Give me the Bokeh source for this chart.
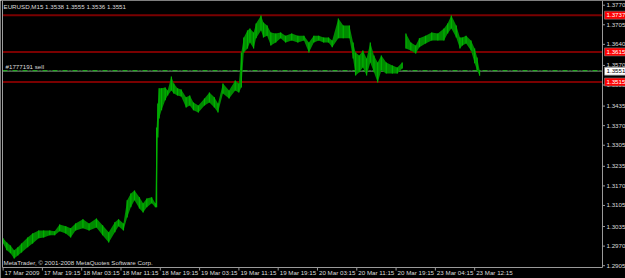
from bokeh.plotting import figure
from bokeh.models import ColumnDataSource
from bokeh.core.properties import value
from bokeh.embed import file_html
from bokeh.resources import INLINE

# ---------------- data ----------------
chart_title = "EURUSD,M15  1.3538 1.3555 1.3536 1.3551"
order_text = "#1777191 sell"
copyright_text = "MetaTrader, \u00a9 2001-2008 MetaQuotes Software Corp."

bar_index = [0, 3, 6, 9, 12, 15, 20, 24, 29, 33, 38, 42, 46, 51, 55, 59, 65, 70, 76, 81, 86, 91, 94, 98,
             101, 104, 107, 111, 114, 117, 121, 124, 125, 126, 127, 129, 132, 134, 137, 139, 142, 145,
             149, 152, 155, 159, 164, 168, 172, 175, 179, 184, 189, 192, 194, 196, 199, 201, 204, 206,
             210, 212, 215, 218, 222, 226, 230, 235, 240, 245, 249, 253, 257, 261, 265, 268, 273, 277,
             282, 285, 287, 290, 293, 296, 299, 302, 305, 308, 312, 317, 321, 325,
             328, 332, 336, 339, 344, 349, 354, 359, 362, 365, 369, 372, 374, 377, 381, 384, 386, 388]
bar_high = [1.2996, 1.2982, 1.2972, 1.2956, 1.2966, 1.2979, 1.2999, 1.3012, 1.3022, 1.3022, 1.3022, 1.3019,
            1.3042, 1.3036, 1.3029, 1.3045, 1.3059, 1.3045, 1.3062, 1.3039, 1.3016, 1.3049, 1.3059, 1.3045,
            1.3122, 1.3145, 1.3155, 1.3132, 1.3112, 1.3128, 1.3132, 1.3112, 1.3364, 1.3444, 1.3494, 1.3494,
            1.3497, 1.3487, 1.3533, 1.3510, 1.3494, 1.3490, 1.3464, 1.3470, 1.3447, 1.3437, 1.3460, 1.3480,
            1.3464, 1.3444, 1.3510, 1.3487, 1.3520, 1.3510, 1.3613, 1.3663, 1.3686, 1.3693, 1.3679, 1.3709,
            1.3736, 1.3713, 1.3703, 1.3679, 1.3676, 1.3679, 1.3669, 1.3676, 1.3669, 1.3669, 1.3646, 1.3669,
            1.3669, 1.3663, 1.3663, 1.3653, 1.3726, 1.3703, 1.3703, 1.3646, 1.3613, 1.3603, 1.3620, 1.3593,
            1.3646, 1.3603, 1.3580, 1.3603, 1.3580, 1.3570, 1.3563, 1.3580,
            1.3676, 1.3646, 1.3636, 1.3660, 1.3669, 1.3679, 1.3676, 1.3693, 1.3709, 1.3736, 1.3703, 1.3663,
            1.3663, 1.3669, 1.3653, 1.3626, 1.3596, 1.3555]
bar_low = [1.2979, 1.2956, 1.2946, 1.2929, 1.2939, 1.2949, 1.2966, 1.2979, 1.2996, 1.2999, 1.3006, 1.3006,
           1.3019, 1.3012, 1.2999, 1.3022, 1.3029, 1.3022, 1.3032, 1.3006, 1.2982, 1.3016, 1.3036, 1.3022,
           1.3065, 1.3099, 1.3122, 1.3095, 1.3082, 1.3099, 1.3112, 1.3099, 1.3099, 1.3331, 1.3394, 1.3421,
           1.3454, 1.3470, 1.3487, 1.3477, 1.3470, 1.3467, 1.3430, 1.3437, 1.3421, 1.3414, 1.3437, 1.3447,
           1.3430, 1.3414, 1.3477, 1.3460, 1.3487, 1.3480, 1.3497, 1.3613, 1.3626, 1.3646, 1.3626, 1.3660,
           1.3686, 1.3663, 1.3669, 1.3636, 1.3646, 1.3660, 1.3646, 1.3653, 1.3646, 1.3653, 1.3613, 1.3646,
           1.3653, 1.3646, 1.3646, 1.3630, 1.3660, 1.3660, 1.3660, 1.3593, 1.3537, 1.3547, 1.3563, 1.3537,
           1.3580, 1.3547, 1.3513, 1.3553, 1.3543, 1.3543, 1.3543, 1.3560,
           1.3626, 1.3620, 1.3610, 1.3630, 1.3643, 1.3653, 1.3653, 1.3653, 1.3676, 1.3693, 1.3663, 1.3626,
           1.3636, 1.3643, 1.3620, 1.3577, 1.3553, 1.3536]
last_bar_before_weekend = 325

level_prices = [1.3737, 1.3615, 1.3515]
level_labels = ["1.3737", "1.3615", "1.3515"]
order_price = 1.3551
order_label = "1.3551"

y_ticks = [1.2905, 1.2970, 1.3035, 1.3105, 1.3170, 1.3235, 1.3305, 1.3370, 1.3435, 1.3505,
           1.3570, 1.3640, 1.3705, 1.3770]
y_tick_labels = ["1.2905", "1.2970", "1.3035", "1.3105", "1.3170", "1.3235", "1.3305", "1.3370",
                 "1.3435", "1.3505", "1.3570", "1.3640", "1.3705", "1.3770"]
x_tick_bars = [0, 32, 64, 96, 128, 160, 192, 224, 256, 288, 320, 352, 384]
x_tick_labels = ["17 Mar 2009", "17 Mar 19:15", "18 Mar 03:15", "18 Mar 11:15", "18 Mar 19:15",
                 "19 Mar 03:15", "19 Mar 11:15", "19 Mar 19:15", "20 Mar 03:15", "20 Mar 11:15",
                 "20 Mar 19:15", "23 Mar 04:15", "23 Mar 12:15"]

# ---------------- layout / style ----------------
W, H = 625, 278
PL, PR, PT, PB = 2, 602, 2, 267          # chart pane edges in canvas pixels
X0, X1 = -0.5, 488.1                     # bar range of the chart pane
Y0, Y1 = 1.2899, 1.3779                  # price range of the chart pane
BX = (X1 - X0) / (PR - PL)               # bars per pixel
BY = (Y1 - Y0) / (PB - PT)               # price per pixel

FONT = value("Liberation Sans")
FS = value("6.2px")
BG = "#000000"
AXIS = "#9a9a9a"
TXT = "#dcdcdc"

p = figure(width=W, height=H,
           x_range=(X0 - PL * BX, X1 + (W - PR) * BX),
           y_range=(Y0 - (H - PB) * BY, Y1 + PT * BY),
           output_backend="svg", toolbar_location=None,
           min_border=0, min_border_left=0, min_border_right=0, min_border_top=0, min_border_bottom=0)
p.axis.visible = False
p.background_fill_color = BG
p.border_fill_color = BG
p.outline_line_color = None
p.grid.visible = False

# levels (dark red), bid line (grey) and order line (green dash-dot)
n_lv = len(level_prices)
p.segment(x0=[X0] * n_lv, x1=[X1] * n_lv, y0=level_prices, y1=level_prices,
          line_color="#7a0000", line_width=2)
p.segment(x0=[X0], x1=[X1], y0=[order_price], y1=[order_price], line_color="#808080", line_width=1)
p.segment(x0=[X0], x1=[X1], y0=[order_price + 0.5 * BY], y1=[order_price + 0.5 * BY],
          line_color="#22a822", line_width=1.3, line_dash="5 2 1 2")

# price bars (high/low band plus bar strokes)
split = bar_index.index(last_bar_before_weekend) + 1
for a, b in ((0, split), (split, len(bar_index))):
    src = ColumnDataSource(dict(x=bar_index[a:b], hi=bar_high[a:b], lo=bar_low[a:b]))
    p.varea(x="x", y1="lo", y2="hi", source=src, fill_color="#008a00")
    p.segment(x0="x", y0="lo", x1="x", y1="hi", source=src, line_color="#00b400", line_width=1.2)

# frame: left border, bottom axis line, right axis line
p.segment(x0=[X0, X0, X1], x1=[X0, X1, X1], y0=[Y0, Y0, Y0], y1=[Y1 + PT * BY, Y0, Y1 + PT * BY],
          line_color=AXIS, line_width=1)

# right price axis: ticks and labels
nt = len(y_ticks)
p.segment(x0=[X1] * nt, x1=[X1 + 2.5 * BX] * nt, y0=y_ticks, y1=y_ticks, line_color=AXIS, line_width=1)
p.text(x=[X1 + 4 * BX] * nt, y=y_ticks, text=y_tick_labels, text_font=FONT, text_font_size=FS,
       text_color=TXT, text_align="left", text_baseline="middle")

# bottom time axis: ticks and left-aligned labels
nx = len(x_tick_bars)
p.segment(x0=x_tick_bars, x1=x_tick_bars, y0=[Y0] * nx, y1=[Y0 - 3 * BY] * nx,
          line_color=AXIS, line_width=1)
p.text(x=[t + 1.5 * BX for t in x_tick_bars], y=[Y0 - 5 * BY] * nx, text=x_tick_labels,
       text_font=FONT, text_font_size=FS, text_color=TXT, text_align="left", text_baseline="middle")

# price markers on the axis
mk_prices = level_prices + [order_price]
mk_labels = level_labels + [order_label]
mk_fill = ["#ff0000"] * n_lv + ["#ffffff"]
mk_text = ["#ffffff"] * n_lv + ["#000000"]
p.rect(x=[X1 + 12.5 * BX] * len(mk_prices), y=mk_prices, width=21, height=8,
       width_units="screen", height_units="screen", fill_color=mk_fill, line_color="#808080",
       line_width=0.6)
p.text(x=[X1 + 4 * BX] * len(mk_prices), y=mk_prices, text=mk_labels, text_font=FONT,
       text_font_size=FS, text_color=mk_text, text_align="left", text_baseline="middle")

# texts inside the chart pane
p.text(x=[X0 + 1 * BX, X0 + 3 * BX, X0 + 1 * BX],
       y=[Y1 - 4 * BY, order_price + 4.5 * BY, Y0 + 5 * BY],
       text=[chart_title, order_text, copyright_text], text_font=FONT, text_font_size=FS,
       text_color=TXT, text_align="left", text_baseline="middle")

open("out.html", "w").write(file_html(p, INLINE))
